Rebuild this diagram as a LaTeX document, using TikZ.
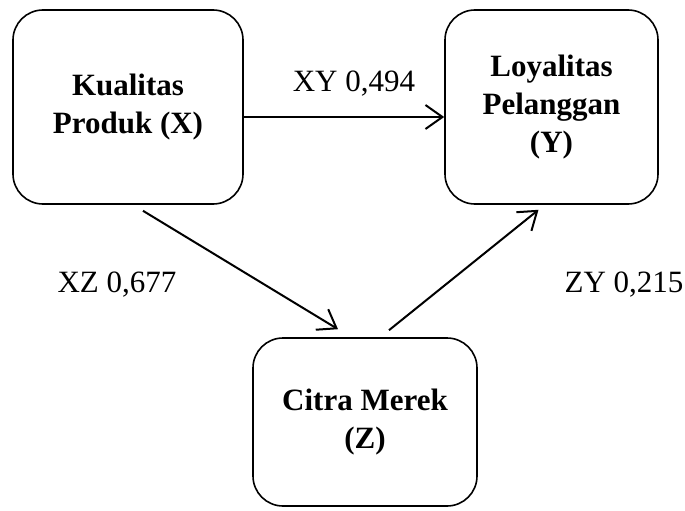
\documentclass[tikz,border=0pt]{standalone}
\usepackage{fontspec}
\setmainfont{Liberation Serif}
\usetikzlibrary{arrows.meta}

\tikzset{
  varbox/.style={draw, line width=1.6pt, rounded corners=30pt, align=center,
    font=\fontsize{31}{38}\selectfont\bfseries,
    execute at begin node={\rule{0pt}{30pt}}},
  coef/.style={anchor=base, font=\fontsize{31}{38}\selectfont},
  path/.style={line width=2pt, -{Straight Barb[length=17pt,width=24pt,line width=2pt]}}
}

\begin{document}
\begin{tikzpicture}[x=1pt, y=-1pt]
            \useasboundingbox (0,0) rectangle (685,511);

            \node[varbox, minimum width=230pt, minimum height=194pt] (X) at (128,107) {Kualitas\\Produk (X)};
            \node[varbox, minimum width=213pt, minimum height=194pt] (Y) at (551.5,107) {Loyalitas\\Pelanggan\\(Y)};
            \node[varbox, minimum width=224pt, minimum height=168pt] (Z) at (365,422) {Citra Merek\\(Z)};

            \draw[path] ([yshift=-10pt]X.east) -- ([yshift=-10pt]Y.west);
            \draw[path] ([xshift=15pt,yshift=-6pt]X.south) -- ([xshift=-27pt,yshift=8pt]Z.north);
            \draw[path] ([xshift=24pt,yshift=7pt]Z.north) -- ([xshift=-13pt,yshift=-5pt]Y.south);

            \node[coef] (xy) at (354,92) {XY 0,494};
            \node[coef] (xz) at (117,292) {XZ 0,677};
            \node[coef] (zy) at (624,292) {ZY 0,215};
        \end{tikzpicture}
\end{document}
